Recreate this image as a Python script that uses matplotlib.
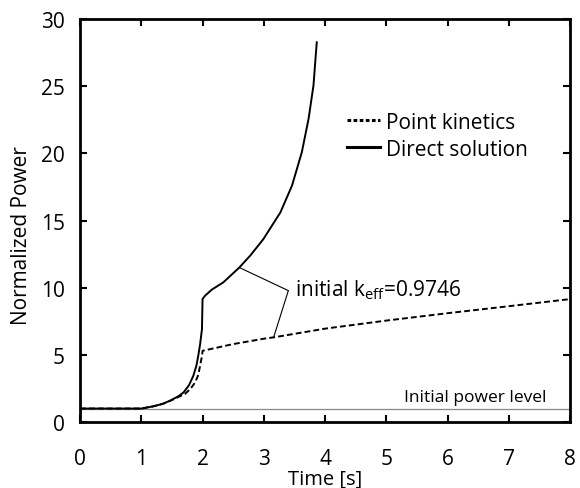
import matplotlib
matplotlib.use("Agg")
import matplotlib.pyplot as plt

plt.rcParams['font.family'] = ['Open Sans', 'DejaVu Sans']
plt.rcParams['mathtext.fontset'] = 'custom'
plt.rcParams['mathtext.rm'] = 'Open Sans'
plt.rcParams['mathtext.it'] = 'Open Sans'

# Direct solution (solid)
t_direct = [0.0, 1.0, 1.2, 1.35, 1.47, 1.6, 1.69, 1.78, 1.85, 1.9, 1.93, 1.96,
            1.99, 2.0, 2.04, 2.15, 2.34, 2.6, 2.78, 2.99, 3.27, 3.46, 3.62,
            3.73, 3.81, 3.864]
p_direct = [1.0, 1.0, 1.17, 1.35, 1.59, 1.9, 2.2, 2.75, 3.45, 4.2, 4.94, 5.8,
            6.9, 9.16, 9.4, 9.85, 10.4, 11.5, 12.4, 13.6, 15.6, 17.6, 20.08,
            22.56, 25.04, 28.27]

# Point kinetics (dashed)
t_pk = [0.0, 1.0, 1.2, 1.35, 1.47, 1.6, 1.71, 1.8, 1.88, 1.93, 1.96, 1.99,
        2.0, 2.5, 3.0, 3.16, 4.0, 5.0, 6.0, 7.0, 8.0]
p_pk = [1.0, 1.0, 1.17, 1.35, 1.57, 1.85, 2.08, 2.45, 2.95, 3.5, 4.2, 4.9,
        5.3, 5.8, 6.2, 6.3, 6.95, 7.55, 8.1, 8.62, 9.15]

initial_level = 1.0
note_vertex = (3.40, 9.78)
note_targets = [(2.60, 11.5), (3.16, 6.3)]

fig = plt.figure(figsize=(5.8, 4.89), dpi=100)
ax = fig.add_axes([0.138, 0.135, 0.845, 0.824])

ax.axhline(initial_level, color='#888888', lw=0.9, zorder=1)
ax.plot(t_pk, p_pk, color='black', lw=1.4, ls=(0, (3, 1.6)), label='Point kinetics')
ax.plot(t_direct, p_direct, color='black', lw=1.4, label='Direct solution')

for tx, ty in note_targets:
    ax.annotate('', xy=(tx, ty), xytext=note_vertex,
                arrowprops=dict(arrowstyle='-', lw=0.8, color='black',
                                shrinkA=0, shrinkB=0))
ax.text(3.51, 9.9, r'initial k$_{\mathrm{eff}}$=0.9746', fontsize=15,
        ha='left', va='center')
ax.text(7.62, 1.86, 'Initial power level', fontsize=12.5, ha='right', va='center')

ax.set_xlim(0, 8)
ax.set_ylim(0, 30)
ax.set_xticks(range(0, 9))
ax.set_yticks(range(0, 31, 5))
ax.tick_params(direction='in', length=5, width=1.5, top=True, right=True,
               labelsize=15)
ax.tick_params(axis='x', pad=19)
ax.tick_params(axis='y', pad=11)
for s in ax.spines.values():
    s.set_linewidth(2)

ax.set_xlabel('Time [s]', fontsize=14.5, va='baseline')
ax.xaxis.set_label_coords(0.5, -0.152)
ax.set_ylabel('Normalized Power', fontsize=15)
ax.yaxis.set_label_coords(-0.098, 0.464)

leg = ax.legend(loc='upper left', bbox_to_anchor=(0.545, 0.77), frameon=False,
                fontsize=15, handlelength=1.6, handletextpad=0.25,
                labelspacing=0.29, borderpad=0, borderaxespad=0)
for h in leg.get_lines():
    h.set_linewidth(2.2)
leg.get_lines()[0].set_linestyle((0, (1.2, 0.8)))

fig.savefig('out.png', dpi=100)
